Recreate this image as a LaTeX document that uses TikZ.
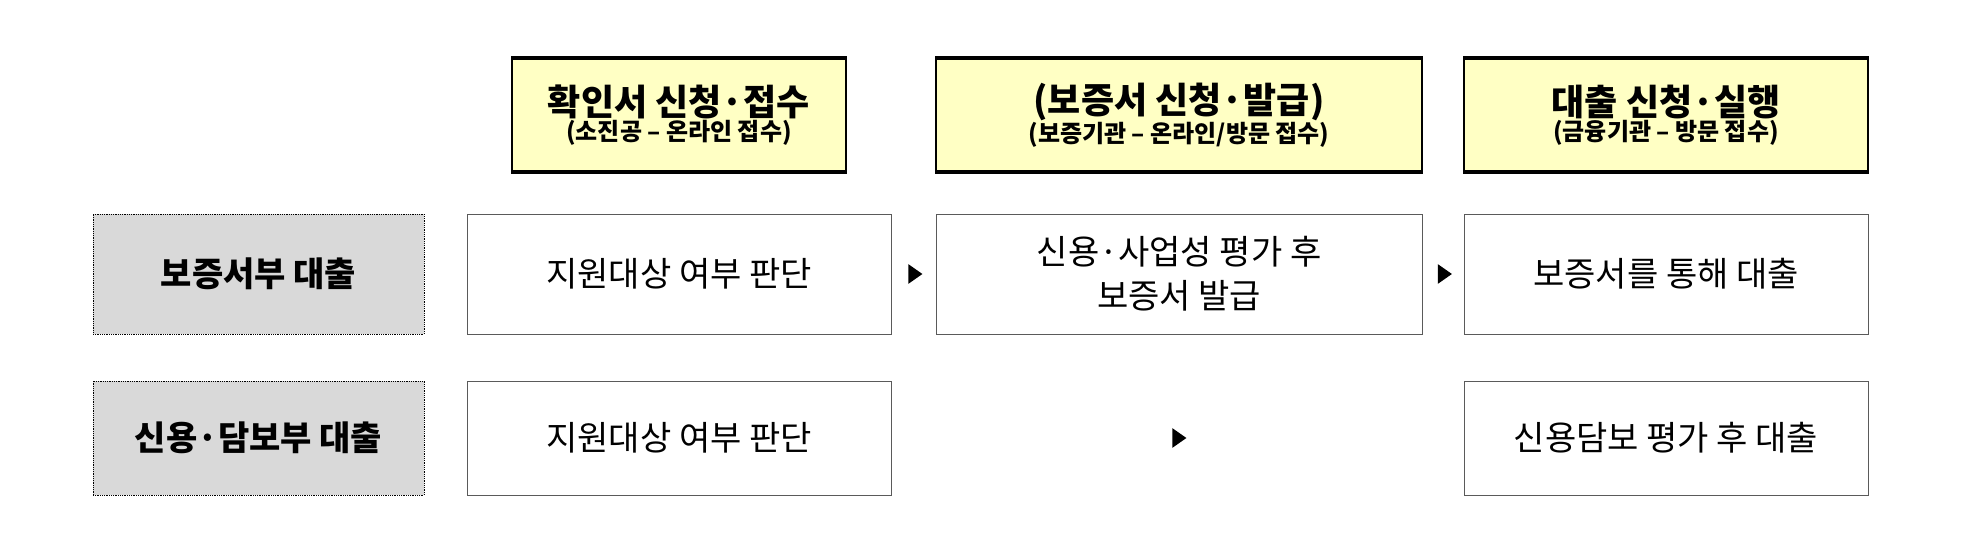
\documentclass[tikz,border=0pt]{standalone}
\usepackage{fontspec}
\setmainfont{Noto Sans CJK KR}
\usetikzlibrary{shapes.geometric,calc}
\begin{document}
\begin{tikzpicture}[x=1pt,y=-1pt,
 hdr/.style={draw=black,line width=1.5pt,fill={rgb,255:red,255;green,255;blue,196},align=center,inner sep=0pt},
 cell/.style={draw={rgb,255:red,90;green,90;blue,90},line width=0.8pt,fill=white,align=center,inner sep=0pt,font=\fontsize{34}{44}\selectfont},
 lbl/.style={draw=black,densely dotted,line width=0.8pt,fill={rgb,255:red,217;green,217;blue,217},align=center,inner sep=0pt,font=\bfseries\fontsize{34}{40}\selectfont},
 tri/.style={fill=black,draw=none,isosceles triangle,isosceles triangle apex angle=70,minimum height=14pt,inner sep=0pt}]
\useasboundingbox (0,0) rectangle (1986,540);
% headers
\node[hdr,minimum width=334pt,minimum height=112pt] (h1) at (679,115) {{\bfseries\fontsize{36}{46}\selectfont 확인서 신청·접수}\\{\bfseries\fontsize{24}{30}\selectfont (소진공 – 온라인 접수)}};
\node[hdr,minimum width=486pt,minimum height=112pt] (h2) at (1179,115) {{\bfseries\fontsize{36}{46}\selectfont (보증서 신청·발급)}\\{\bfseries\fontsize{24}{30}\selectfont (보증기관 – 온라인/방문 접수)}};
\node[hdr,minimum width=404pt,minimum height=112pt] (h3) at (1666,115) {{\bfseries\fontsize{36}{46}\selectfont 대출 신청·실행}\\{\bfseries\fontsize{24}{30}\selectfont (금융기관 – 방문 접수)}};
\foreach \h in {h1,h2,h3}{\draw[line width=4pt] (\h.north west)--(\h.north east); \draw[line width=4pt] (\h.south west)--(\h.south east);}
% row 1
\node[lbl,minimum width=331pt,minimum height=120pt] (l1) at (258.5,274) {보증서부 대출};
\node[cell,minimum width=424pt,minimum height=120pt] (a1) at (679,274) {지원대상 여부 판단};
\node[cell,minimum width=486pt,minimum height=120pt] (b1) at (1179,274) {신용·사업성 평가 후\\보증서 발급};
\node[cell,minimum width=404pt,minimum height=120pt] (c1) at (1666,274) {보증서를 통해 대출};
% row 2
\node[lbl,minimum width=331pt,minimum height=114pt] (l2) at (258.5,438) {신용·담보부 대출};
\node[cell,minimum width=424pt,minimum height=114pt] (a2) at (679,438) {지원대상 여부 판단};
\node[cell,minimum width=404pt,minimum height=114pt] (c2) at (1666,438) {신용담보 평가 후 대출};
% arrows
\node[tri] (t1) at ($(a1.east)!0.5!(b1.west)$) {};
\node[tri] (t2) at ($(b1.east)!0.5!(c1.west)$) {};
\node[tri] (t3) at ($(a2.east)!0.5!(c2.west)$) {};
\end{tikzpicture}
\end{document}
